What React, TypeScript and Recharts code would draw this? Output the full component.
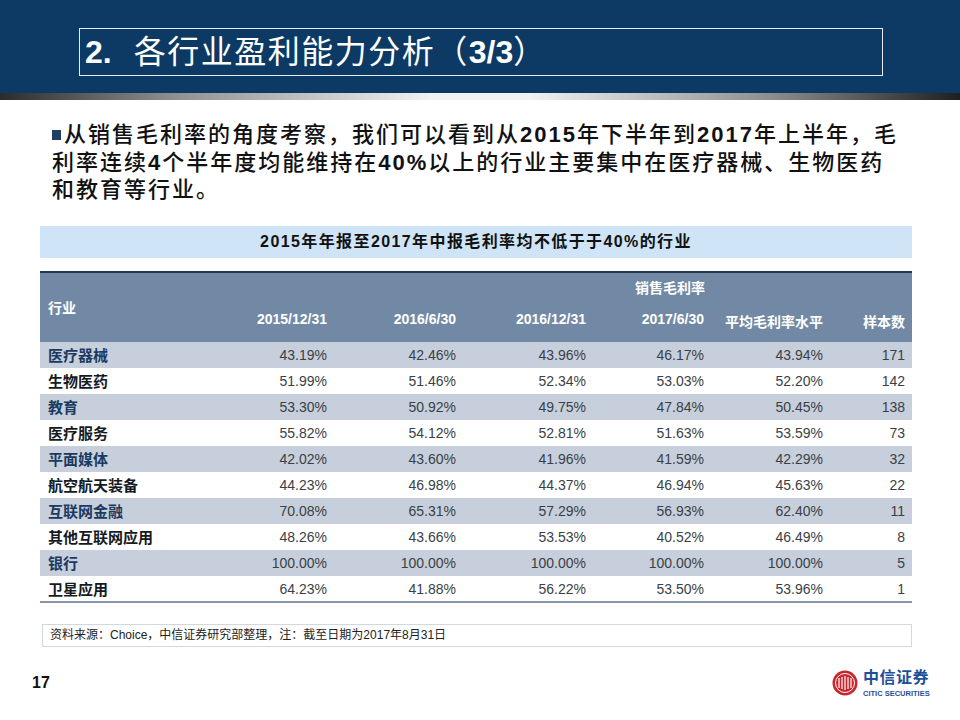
import React from 'react';
import { BarChart, Bar, XAxis, YAxis, Cell, LabelList } from 'recharts';

const FONT = '"Liberation Sans", "Noto Sans CJK SC", sans-serif';

// 表格数据
const industries = ['医疗器械', '生物医药', '教育', '医疗服务', '平面媒体', '航空航天装备', '互联网金融', '其他互联网应用', '银行', '卫星应用'];
const gm2015Dec = [43.19, 51.99, 53.30, 55.82, 42.02, 44.23, 70.08, 48.26, 100.0, 64.23];
const gm2016Jun = [42.46, 51.46, 50.92, 54.12, 43.60, 46.98, 65.31, 43.66, 100.0, 41.88];
const gm2016Dec = [43.96, 52.34, 49.75, 52.81, 41.96, 44.37, 57.29, 53.53, 100.0, 56.22];
const gm2017Jun = [46.17, 53.03, 47.84, 51.63, 41.59, 46.94, 56.93, 40.52, 100.0, 53.50];
const gmAvg = [43.94, 52.20, 50.45, 53.59, 42.29, 45.63, 62.40, 46.49, 100.0, 53.96];
const sampleCount = [171, 142, 138, 73, 32, 22, 11, 8, 5, 1];
const periodLabels = ['2015/12/31', '2016/6/30', '2016/12/31', '2017/6/30', '平均毛利率水平', '样本数'];

const rows = industries.map((name, i) => ({
  name,
  band: 1,
  c0: gm2015Dec[i],
  c1: gm2016Jun[i],
  c2: gm2016Dec[i],
  c3: gm2017Jun[i],
  c4: gmAvg[i],
  c5: sampleCount[i],
}));

// column right edges, relative to table left
const colRight = [287, 416, 546, 664, 783, 865];
const TABLE_W = 872;
const ROW_H = 26;

const pct = (v: number) => v.toFixed(2) + '%';

function cellText(col: number, fmt: (v: any) => string) {
  return (props: any) => {
    const { x, y, height, value } = props;
    return (
      <text
        x={Number(x) + colRight[col]}
        y={Number(y) + Number(height) / 2 + 5}
        textAnchor="end"
        fontSize={14}
        fontFamily={FONT}
        fill="#3a3f46"
      >
        {fmt(value)}
      </text>
    );
  };
}

function rowLabel(props: any) {
  const { x, y, height, value, index } = props;
  return (
    <text
      x={Number(x) + 8}
      y={Number(y) + Number(height) / 2 + 5.5}
      fontSize={15}
      fontWeight={700}
      fontFamily={FONT}
      fill={index % 2 === 0 ? '#1b3a60' : '#151a22'}
    >
      {value}
    </text>
  );
}

const abs = (s: React.CSSProperties): React.CSSProperties => ({ position: 'absolute', ...s });

export default function App() {
  return (
    <div style={abs({ left: 0, top: 0, width: 960, height: 720, background: '#fff', overflow: 'hidden', fontFamily: FONT })}>
      {/* banner */}
      <div style={abs({ left: 0, top: 0, width: 960, height: 93, background: '#0c3a64' })} />
      <div
        style={abs({
          left: 0,
          top: 93,
          width: 960,
          height: 7,
          background: 'linear-gradient(to right, #2b2b2b 0%, #8f8f8f 18%, #f2f2f2 45%, #f2f2f2 55%, #8f8f8f 80%, #1f1f1f 100%)',
        })}
      />
      <div style={abs({ left: 79, top: 28, width: 804, height: 48, border: '1.5px solid #e6edf4', boxSizing: 'border-box' })} />
      <div style={abs({ left: 85, top: 32, fontSize: 32, lineHeight: '40px', color: '#fff', whiteSpace: 'nowrap' })}>
        <span style={{ fontWeight: 700 }}>2.</span>
        <span style={{ marginLeft: 22, letterSpacing: 1.5, fontWeight: 400 }}>各行业盈利能力分析（</span>
        <span style={{ fontWeight: 700 }}>3/3</span>
        <span>）</span>
      </div>

      {/* bullet text */}
      <div style={abs({ left: 52, top: 130, width: 9, height: 10, background: '#1f3f66' })} />
      <div style={abs({ left: 64, top: 121, fontSize: 22, lineHeight: '28px', color: '#111', letterSpacing: 2, fontWeight: 500, whiteSpace: 'nowrap' })}>
        从销售毛利率的角度考察，我们可以看到从<b>2015</b>年下半年到<b>2017</b>年上半年，毛
      </div>
      <div style={abs({ left: 52, top: 149, fontSize: 22, lineHeight: '28px', color: '#111', letterSpacing: 2, fontWeight: 500, whiteSpace: 'nowrap' })}>
        利率连续<b>4</b>个半年度均能维持在<b>40%</b>以上的行业主要集中在医疗器械、生物医药
      </div>
      <div style={abs({ left: 52, top: 176, fontSize: 22, lineHeight: '28px', color: '#111', letterSpacing: 2, fontWeight: 500, whiteSpace: 'nowrap' })}>
        和教育等行业。
      </div>

      {/* table title */}
      <div
        style={abs({
          left: 40,
          top: 226,
          width: TABLE_W,
          height: 32,
          background: '#cfe4f6',
          fontSize: 16,
          fontWeight: 700,
          lineHeight: '32px',
          textAlign: 'center',
          color: '#111',
          letterSpacing: 1.4,
        })}
      >
        2015年年报至2017年中报毛利率均不低于于40%的行业
      </div>

      {/* table header */}
      <div style={abs({ left: 40, top: 271, width: TABLE_W, height: 71, background: '#7189a4', borderTop: '2px solid #26384c', boxSizing: 'border-box' })} />
      <div style={abs({ left: 48, top: 297, fontSize: 14, fontWeight: 700, color: '#fff' })}>行业</div>
      <div style={abs({ left: 620, top: 277, width: 100, textAlign: 'center', fontSize: 14, fontWeight: 700, color: '#fff' })}>销售毛利率</div>
      {periodLabels.map((p, i) => (
        <div
          key={p}
          style={abs({ left: 40 + colRight[i] - 140, top: 311, width: 140, textAlign: 'right', fontSize: 14, fontWeight: 700, color: '#fff', whiteSpace: 'nowrap' })}
        >
          {p}
        </div>
      ))}

      {/* table body */}
      <div style={abs({ left: 40, top: 342 })}>
        <BarChart
          width={TABLE_W}
          height={ROW_H * rows.length}
          data={rows}
          layout="vertical"
          margin={{ top: 0, right: 0, bottom: 0, left: 0 }}
          barCategoryGap={0}
        >
          <XAxis type="number" domain={[0, 1]} hide />
          <YAxis type="category" dataKey="name" hide />
          <Bar dataKey="band" isAnimationActive={false}>
            {rows.map((r, i) => (
              <Cell key={r.name} fill={i % 2 === 0 ? '#c6cfdb' : '#ffffff'} />
            ))}
            <LabelList dataKey="name" content={rowLabel} />
            <LabelList dataKey="c0" content={cellText(0, pct)} />
            <LabelList dataKey="c1" content={cellText(1, pct)} />
            <LabelList dataKey="c2" content={cellText(2, pct)} />
            <LabelList dataKey="c3" content={cellText(3, pct)} />
            <LabelList dataKey="c4" content={cellText(4, pct)} />
            <LabelList dataKey="c5" content={cellText(5, (v) => String(v))} />
          </Bar>
        </BarChart>
      </div>
      <div style={abs({ left: 40, top: 601, width: TABLE_W, height: 2, background: '#8797a8' })} />

      {/* source */}
      <div
        style={abs({
          left: 42,
          top: 624,
          width: 870,
          height: 23,
          border: '1px solid #d3d8de',
          boxSizing: 'border-box',
          fontSize: 12,
          lineHeight: '21px',
          paddingLeft: 7,
          color: '#222',
        })}
      >
        资料来源：Choice，中信证券研究部整理，注：截至日期为2017年8月31日
      </div>

      <div style={abs({ left: 32, top: 674, fontSize: 16, fontWeight: 700, color: '#111' })}>17</div>

      {/* logo */}
      <svg style={abs({ left: 832, top: 669 })} width={28} height={28}>
        <circle cx={13} cy={14} r={12.5} fill="#c8252c" />
        <circle cx={13} cy={14} r={9.5} fill="none" stroke="#fff" strokeWidth={1} />
        <path d="M7 9 v10 M10 8 v12 M13 7 v14 M16 8 v12 M19 9 v10" stroke="#fff" strokeWidth={1.2} />
      </svg>
      <div style={abs({ left: 863, top: 669, height: 18, fontSize: 16, lineHeight: '18px', fontWeight: 700, color: '#1d4f9b', letterSpacing: 0.5, whiteSpace: 'nowrap' })}>中信证券</div>
      <div style={abs({ left: 863, top: 689, height: 9, fontSize: 7.5, lineHeight: '9px', fontWeight: 700, color: '#1d4f9b', whiteSpace: 'nowrap' })}>CITIC SECURITIES</div>
    </div>
  );
}
